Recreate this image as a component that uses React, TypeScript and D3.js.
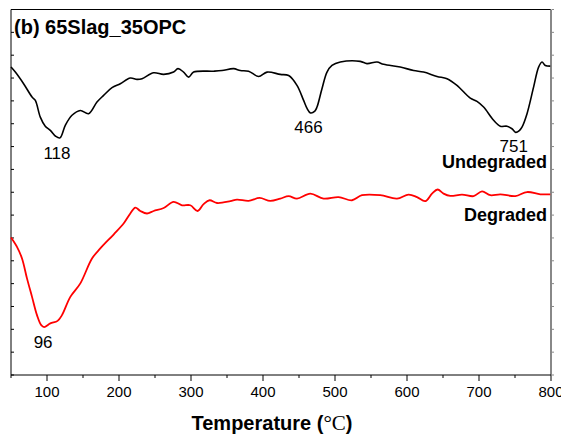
import React from "react";
import * as d3 from "d3";

// DTG-style traces, temperature (°C) vs. arbitrary signal units
const undegradedT = [50, 56, 67.5, 79.2, 83.8, 90.7, 97.6, 104.6, 112, 118, 125.4, 134.7, 146.3, 157.8, 169.4, 178.6, 190.3, 201.8, 215.7, 225, 232, 248.1, 262, 275.8, 281.9, 289.7, 296.7, 303.6, 331.4, 343.1, 359.2, 368.5, 380, 393.9, 405.6, 424, 435.6, 447.2, 456.4, 461, 466, 472, 475, 481.9, 488.9, 495.8, 507.4, 535.1, 544.4, 558.3, 567.5, 590.6, 609.2, 623, 641.7, 655.6, 669.4, 687.9, 697.2, 706.4, 720.3, 729.6, 738.9, 745.8, 751, 756, 759.7, 766.7, 775.8, 782.8, 787.5, 792.1, 799];
const undegradedV = [13.48, 13.26, 12.75, 12.17, 12.02, 11.29, 10.89, 10.71, 10.45, 10.38, 10.93, 11.37, 11.58, 11.44, 11.95, 12.24, 12.58, 12.75, 13.0, 12.94, 12.97, 13.23, 13.16, 13.26, 13.41, 13.26, 13.04, 13.26, 13.30, 13.33, 13.41, 13.33, 13.30, 13.07, 13.26, 13.16, 13.11, 12.68, 12.02, 11.68, 11.47, 11.55, 11.73, 12.53, 13.26, 13.55, 13.70, 13.73, 13.63, 13.70, 13.60, 13.48, 13.33, 13.26, 13.07, 12.97, 12.68, 12.12, 11.98, 11.73, 11.15, 10.89, 10.89, 10.78, 10.62, 10.70, 10.85, 11.44, 12.60, 13.48, 13.70, 13.55, 13.52];

const degradedT = [50, 58.3, 65.3, 72.2, 79.2, 86.1, 92, 96, 104.6, 114.7, 120.8, 132.4, 146.3, 162.5, 174, 192.5, 206.4, 215.7, 222.6, 229.6, 238.9, 248.1, 262, 275.8, 287.5, 299, 309.2, 317.5, 325.8, 336.1, 354.6, 363.9, 380, 395.3, 410.1, 424, 435.6, 447.2, 465.7, 484.2, 505, 523.6, 537.5, 562.9, 586.1, 602.2, 613.9, 625.4, 634.7, 642.5, 650.8, 660.1, 676.4, 692.5, 704.2, 715.7, 729.6, 750.5, 766.7, 785.2, 799];
const degradedV = [6.02, 5.61, 5.10, 4.23, 3.42, 2.62, 2.18, 2.10, 2.26, 2.37, 2.62, 3.42, 4.01, 5.10, 5.54, 6.15, 6.63, 7.07, 7.33, 7.18, 7.07, 7.18, 7.31, 7.58, 7.43, 7.43, 7.18, 7.48, 7.65, 7.53, 7.61, 7.68, 7.62, 7.75, 7.62, 7.72, 7.83, 7.72, 7.94, 7.72, 7.79, 7.65, 7.87, 7.87, 7.72, 7.90, 7.79, 7.61, 7.94, 8.12, 7.94, 7.84, 7.90, 7.83, 8.04, 7.87, 7.91, 7.83, 8.01, 7.91, 7.91];

const xTicks = [100, 200, 300, 400, 500, 600, 700, 800];
const xMinorTicks = [50, 150, 250, 350, 450, 550, 650, 750];
const yTicks = d3.range(0, 17);

// Peak annotations: temperature and which trace it sits on
const peakTemps = [118, 466, 751, 96];
const peakSeries = ["u", "u", "u", "d"];

const W = 561;
const H = 439;
const sans = "'Liberation Sans', Arial, sans-serif";

export default function App() {
  const x = d3.scaleLinear().domain([50, 800]).range([11, 551]);
  const y = d3.scaleLinear().domain([0, 16]).range([375, 9.5]);

  const path = (ts: number[], vs: number[]) =>
    d3
      .line<number>()
      .x((t) => x(t))
      .y((_, i) => y(vs[i]))
      .curve(d3.curveCatmullRom.alpha(0.5))(ts) || "";

  const valueAt = (s: string, t: number) => {
    const ts = s === "u" ? undegradedT : degradedT;
    const vs = s === "u" ? undegradedV : degradedV;
    const i = ts.indexOf(t);
    return i >= 0 ? vs[i] : vs[0];
  };

  const labelOffsets: Record<number, [number, number]> = {
    118: [-3, 21],
    466: [-2, 20],
    751: [-2, 20],
    96: [-1, 21],
  };

  return (
    <svg
      width={W}
      height={H}
      style={{ position: "absolute", left: 0, top: 0, background: "#fff" }}
      fontFamily={sans}
    >
      {/* frame */}
      <line x1={11} x2={551} y1={9.5} y2={9.5} stroke="#000" strokeWidth={1} />
      <line x1={11} x2={11} y1={9.5} y2={375} stroke="#000" strokeWidth={1} />
      <line x1={551} x2={551} y1={9.5} y2={375} stroke="#888" strokeWidth={2} />

      {/* y ticks, unlabelled */}
      {yTicks.map((v) => (
        <g key={"y" + v}>
          <line x1={11} x2={14} y1={y(v)} y2={y(v)} stroke="#000" strokeWidth={1} />
          <line x1={552} x2={554} y1={y(v)} y2={y(v)} stroke="#888" strokeWidth={1} />
        </g>
      ))}

      {/* x axis */}
      <line x1={11} x2={551} y1={375} y2={375} stroke="#000" strokeWidth={1} />
      {xTicks.map((t) => (
        <g key={"x" + t}>
          <line x1={x(t)} x2={x(t)} y1={375} y2={381} stroke="#000" strokeWidth={1} />
          <text x={x(t)} y={397} textAnchor="middle" fontSize={15} fill="#000">
            {t}
          </text>
        </g>
      ))}
      {xMinorTicks.map((t) => (
        <line key={"m" + t} x1={x(t)} x2={x(t)} y1={375} y2={378} stroke="#000" strokeWidth={1} />
      ))}

      <text x={272} y={430} textAnchor="middle" fontSize={20} fontWeight="bold" fill="#000">
        Temperature (
        <tspan fontFamily="'Liberation Serif', 'Times New Roman', serif" fontWeight="normal" fontSize={21}>
          °C
        </tspan>
        )
      </text>

      {/* traces */}
      <path d={path(undegradedT, undegradedV)} fill="none" stroke="#000" strokeWidth={1.6} />
      <path d={path(degradedT, degradedV)} fill="none" stroke="#ff0000" strokeWidth={1.8} />

      {/* peak labels */}
      {peakTemps.map((t, i) => {
        const [dx, dy] = labelOffsets[t];
        return (
          <text
            key={"p" + t}
            x={x(t) + dx}
            y={y(valueAt(peakSeries[i], t)) + dy}
            textAnchor="middle"
            fontSize={17}
            fill="#000"
          >
            {t}
          </text>
        );
      })}

      <text x={547} y={168} textAnchor="end" fontSize={18} fontWeight="bold" fill="#000">
        Undegraded
      </text>
      <text x={547} y={220.5} textAnchor="end" fontSize={18} fontWeight="bold" fill="#000">
        Degraded
      </text>

      <text x={14} y={34} fontSize={20} fontWeight="bold" fill="#000">
        (b) 65Slag_35OPC
      </text>
    </svg>
  );
}
